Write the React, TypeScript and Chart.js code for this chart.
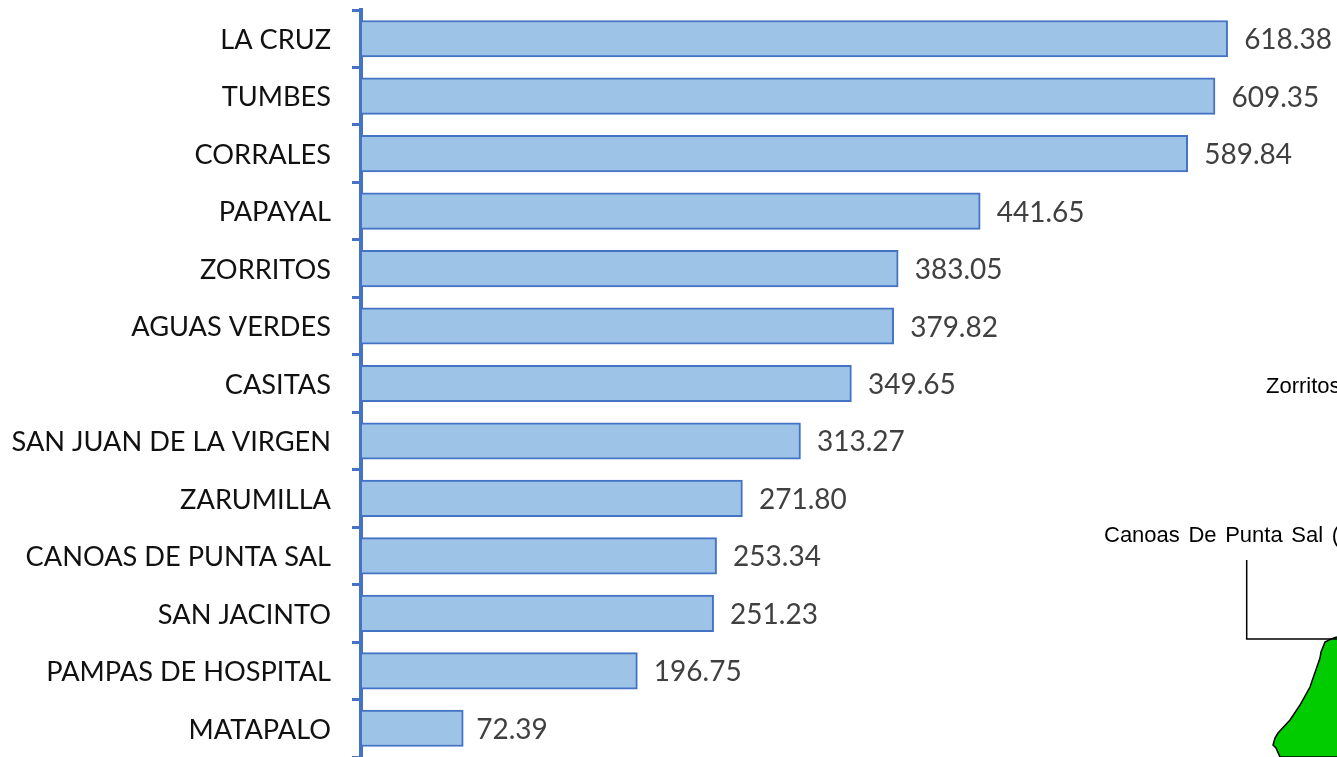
import React, { useEffect, useRef } from "react";
import { Chart, registerables } from "chart.js";

Chart.register(...registerables);

const categories = [
  "LA CRUZ", "TUMBES", "CORRALES", "PAPAYAL", "ZORRITOS", "AGUAS VERDES", "CASITAS",
  "SAN JUAN DE LA VIRGEN", "ZARUMILLA", "CANOAS DE PUNTA SAL", "SAN JACINTO", "PAMPAS DE HOSPITAL", "MATAPALO",
];
const values = [618.38, 609.35, 589.84, 441.65, 383.05, 379.82, 349.65, 313.27, 271.8, 253.34, 251.23, 196.75, 72.39];
const mapOutline = [[1337, 637], [1331, 639], [1325, 642], [1321, 652], [1320, 658], [1310, 687], [1300, 705], [1290, 720], [1278, 733], [1275, 738], [1273, 745], [1276, 748], [1280, 757], [1337, 757]];
const leader = [[1246.7, 560], [1246.7, 639], [1337, 639]];

const overlay = {
  id: "overlay",
  afterDatasetsDraw(chart: any) {
    const ctx = chart.ctx;
    ctx.save();
    ctx.font = "28px Lato";
    ctx.fillStyle = "#404040";
    ctx.textAlign = "left";
    ctx.textBaseline = "middle";
    chart.getDatasetMeta(0).data.forEach((bar: any, i: number) => {
      const gap = values[i] < 100 ? 13 : 16.5;
      ctx.fillText(values[i].toFixed(2), bar.x + gap, bar.y + 1.5);
    });
    ctx.beginPath();
    mapOutline.forEach(([x, y], i) => (i ? ctx.lineTo(x, y) : ctx.moveTo(x, y)));
    ctx.fillStyle = "#00CC00";
    ctx.strokeStyle = "#000000";
    ctx.lineWidth = 1.5;
    ctx.fill();
    ctx.stroke();
    ctx.beginPath();
    leader.forEach(([x, y], i) => (i ? ctx.lineTo(x, y) : ctx.moveTo(x, y)));
    ctx.stroke();
    ctx.fillStyle = "#000000";
    ctx.textBaseline = "alphabetic";
    ctx.font = '22px "Liberation Sans"';
    ctx.fillText("Zorritos", 1266, 393);
    (ctx as any).wordSpacing = "2.5px";
    ctx.fillText("Canoas De Punta Sal (", 1104, 541.5);
    ctx.restore();
  },
};

export default function App() {
  const ref = useRef<HTMLCanvasElement>(null);
  useEffect(() => {
    const chart = new Chart(ref.current!, {
      type: "bar",
      data: {
        labels: categories,
        datasets: [{
          data: values,
          backgroundColor: "#9DC3E6",
          borderColor: "#4472C4",
          borderWidth: 2,
          barThickness: 36.5,
        }],
      },
      options: {
        indexAxis: "y",
        animation: false,
        responsive: false,
        layout: { padding: { top: 10, bottom: -0.5, left: 0, right: 0 } },
        plugins: { legend: { display: false }, tooltip: { enabled: false } },
        scales: {
          x: { display: false, min: -1, max: 696.5 },
          y: {
            afterFit: (s: any) => { s.width = 360.5; s.paddingTop = 0; s.paddingBottom = 0; },
            border: { color: "#4472C4", width: 4 },
            grid: { drawOnChartArea: false, drawTicks: true, tickLength: 8.5, tickWidth: 3, tickColor: "#4472C4", offset: true },
            ticks: { color: "#111111", padding: 21, labelOffset: 1.5, font: { family: "Lato", size: 27.2 }, autoSkip: false },
          },
        },
      },
      plugins: [overlay],
    } as any);
    return () => chart.destroy();
  }, []);
  return <canvas ref={ref} width={1337} height={757} style={{ position: "absolute", left: 0, top: 0, display: "block" }} />;
}
